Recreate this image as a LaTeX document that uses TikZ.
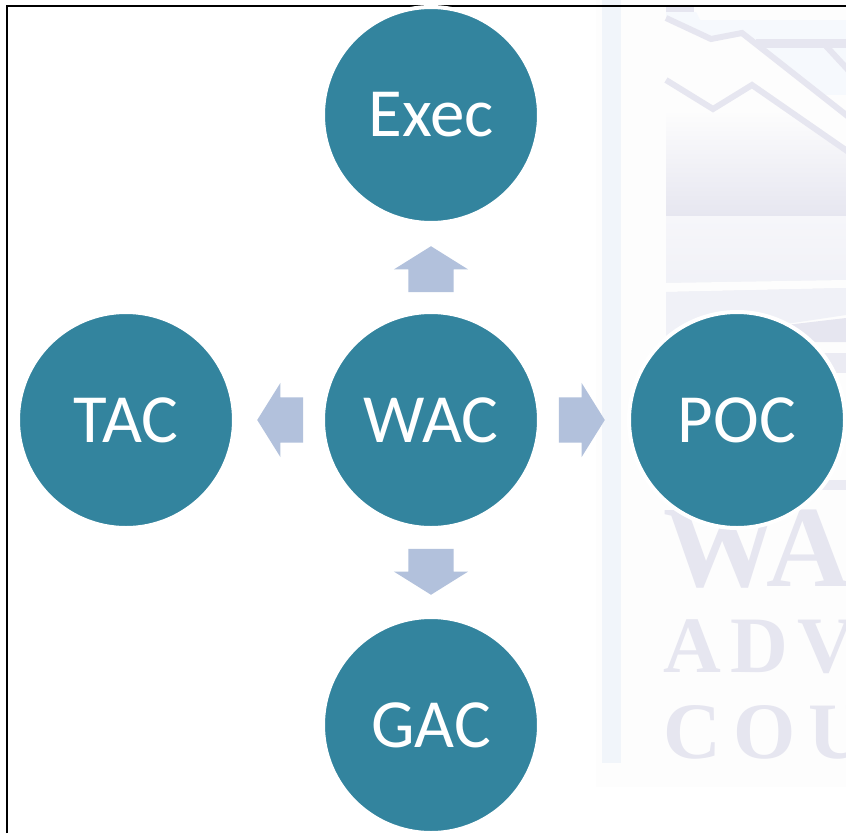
\documentclass[tikz,border=0pt]{standalone}
\usepackage{fontspec}
\setmainfont{Carlito}
\newfontfamily\wmfont[LetterSpace=0]{Liberation Serif}
\newfontfamily\wmwide[LetterSpace=12]{Liberation Serif}
\newfontfamily\wmwider[LetterSpace=16]{Liberation Serif}
\usetikzlibrary{shapes.arrows}
\definecolor{teal1}{HTML}{33849E}
\definecolor{arrowblue}{HTML}{B2C1DC}
\definecolor{wm}{HTML}{E6E6F0}
\definecolor{wmbg}{HTML}{FDFDFD}
\definecolor{wmbar}{HTML}{F1F5FA}
\definecolor{wmpale}{HTML}{F6F9FD}
\definecolor{wmband}{HTML}{F6F6FA}
\definecolor{wmband2}{HTML}{F0F1F7}
\tikzset{
  circ/.style={circle,fill=teal1,draw=white,line width=4pt,minimum size=216pt,inner sep=0pt,text=white,font=\fontsize{69}{80}\selectfont},
  blockarrow/.style={single arrow,fill=arrowblue,draw=none,minimum height=46pt,minimum width=74pt,single arrow head extend=14.5pt,single arrow head indent=0pt,single arrow tip angle=116,inner sep=0pt,anchor=tip},
  zig/.style={draw=wm,line width=6pt,line join=miter},
  wmtxt/.style={text=wm,anchor=base west,inner sep=0pt,outer sep=0pt}
}
\newcommand{\shaftrule}{\rule{0pt}{45pt}}
\begin{document}
\begin{tikzpicture}[x=1pt,y=-1pt]
\useasboundingbox (0,0) rectangle (846,833);
\fill[white] (0,0) rectangle (846,833);
\begin{scope}
\clip (0,0) rectangle (846,833);
% watermark
\fill[wmbg] (596,0) rectangle (846,787);
\fill[wmbar] (602,0) rectangle (621,763);
\fill[wmpale] (666,12) -- (696,12) -- (700,20) -- (846,20) -- (846,115) -- (742,30) -- (711,40) -- (666,18) -- cycle;
\fill[wm] (666,5) rectangle (694,12);
\fill[wm] (756,39) rectangle (846,48);
\draw[wm,line width=6pt] (826,46) -- (850,72);
\shade[bottom color=wm,top color=wmbg] (666,110) rectangle (846,216);
\fill[wmbg] (666,78) -- (713,112) -- (752,88) -- (846,152) -- (846,95) -- (666,95) -- cycle;
\draw[zig] (666,18) -- (711,39) -- (742,33) -- (850,118);
\draw[zig] (666,80) -- (713,109) -- (752,85) -- (850,153);
\shade[top color=wmband,bottom color=wmband2] (666,216) rectangle (846,292);
\fill[wmbg] (666,283) -- (846,280) -- (846,288) -- (666,292) -- cycle;
\fill[wmband2] (666,292) -- (846,288) -- (846,315) -- (666,342) -- cycle;
\fill[wm] (700,335) -- (846,318) -- (846,342) -- (700,342) -- cycle;
\fill[wm!80!wmbg] (760,353) -- (846,353) -- (846,373) -- (760,373) -- cycle;
\fill[wm!80!wmbg] (820,480) rectangle (846,490);
\node[wmtxt] (wa) at (663,586) {\wmfont\bfseries\fontsize{116}{116}\selectfont WA};
\node[wmtxt] (adv) at (663,672) {\wmwide\bfseries\fontsize{80}{80}\selectfont ADV};
\node[wmtxt] (cou) at (663,758) {\wmwider\bfseries\fontsize{80}{80}\selectfont COU};
\end{scope}
% frame
\draw[black,line width=2.2pt] (7,833) -- (7,6) -- (846,6);
% circles
\node[circ] (exec) at (431,115) {Exec};
\node[circ] (wac) at (431,420) {WAC};
\node[circ] (tac) at (126,420) {TAC};
\node[circ] (poc) at (737,420) {POC};
\node[circ] (gac) at (431,725) {GAC};
% block arrows
\node[blockarrow,rotate=90] (aup) at (431,246) {\shaftrule};
\node[blockarrow,rotate=180] (aleft) at (257,420) {\shaftrule};
\node[blockarrow,rotate=0] (aright) at (605,420) {\shaftrule};
\node[blockarrow,rotate=270] (adown) at (431,595) {\shaftrule};
\end{tikzpicture}
\end{document}
